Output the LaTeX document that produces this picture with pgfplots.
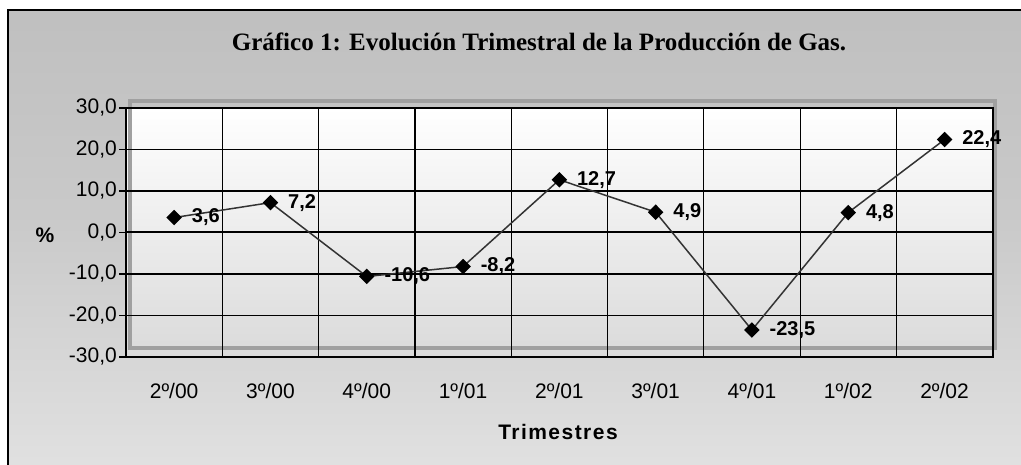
\documentclass[border=0pt]{standalone}
\usepackage{fontspec}
\setmainfont{Liberation Sans}
\newfontfamily\titlefont{Liberation Serif}
\newfontfamily\spacedfont[LetterSpace=7]{Liberation Sans}
\usepackage{pgfplots}
\pgfplotsset{compat=1.18}

\definecolor{bgtop}{RGB}{192,192,192}
\definecolor{pframe}{RGB}{160,160,160}
\definecolor{plotbot}{RGB}{218,218,218}
\definecolor{linegray}{RGB}{51,51,51}
\pgfdeclareverticalshading{chartbg}{100bp}{color(0bp)=(white); color(12bp)=(white!97!black); color(27bp)=(white!88!black); color(53bp)=(white!79!black); color(74bp)=(bgtop); color(100bp)=(bgtop)}

\begin{document}
\begin{tikzpicture}[x=1pt,y=1pt]
\useasboundingbox (0,0) rectangle (1021,465);
% chart area
\fill[shading=chartbg] (8,-20) rectangle (1040,455);
\draw[black,line width=2.5pt] (8,-20) rectangle (1040,455);
% plot area
\shade[top color=white,bottom color=plotbot] (126,108) rectangle (992.7,357);
\draw[pframe,line width=4pt] (129.7,117) rectangle (995,364);

\begin{axis}[at={(126pt,108pt)},anchor=south west,scale only axis,
  width=866.7pt,height=249pt,
  xmin=0,xmax=9,ymin=-30,ymax=30,
  xtick={0.5,1.5,...,8.5},
  xticklabels={2º/00,3º/00,4º/00,1º/01,2º/01,3º/01,4º/01,1º/02,2º/02},
  minor xtick={1,...,8},xminorgrids,
  ytick={-30,-20,...,30},ymajorgrids,
  major x tick style={draw=none},minor tick length=0pt,
  ytick pos=left,tick align=outside,major tick length=7pt,
  tick style={black,line width=1.2pt},
  grid style={black,line width=1.2pt},
  minor grid style={black,line width=1.2pt},
  axis line style={black,line width=1.6pt},
  ticklabel style={font=\fontsize{21}{24}\selectfont,inner sep=0pt},
  xticklabel style={yshift=-19pt},
  yticklabel style={xshift=-2pt},
  /pgf/number format/assume math mode=true,
  yticklabel={\pgfmathprintnumber[fixed,fixed zerofill,precision=1,use comma]{\tick}},
  nodes near coords={\pgfmathprintnumber[fixed,precision=1,use comma,assume math mode=true]{\pgfplotspointmeta}},
  nodes near coords style={font=\fontsize{20}{22}\selectfont\bfseries,anchor=west,xshift=17pt,inner sep=0pt,black},
  clip=false]
\draw[black,line width=2pt] (axis cs:0,0) -- (axis cs:9,0);
\pgfplotsinvokeforeach{1,...,8}{\draw[black,line width=1.2pt] (axis cs:#1,0) -- ++(0,-5pt);}
\addplot[linegray,line width=1.5pt,mark=diamond*,mark size=6.7pt,
  mark options={xscale=1.33,fill=black,draw=black,solid}] coordinates {
  (0.5,3.6) (1.5,7.2) (2.5,-10.6) (3.5,-8.2) (4.5,12.7) (5.5,4.9) (6.5,-23.5) (7.5,4.8) (8.5,22.4)};
\end{axis}

\node[font=\titlefont\bfseries\fontsize{25}{27}\selectfont] at (539,423) {Gráfico 1: Evolución Trimestral de la Producción de Gas.};
\node[font=\fontsize{21}{24}\selectfont\bfseries] at (45,230) {\%};
\node[font=\spacedfont\fontsize{21}{24}\selectfont\bfseries] at (558,33) {Trimestres};
\end{tikzpicture}
\end{document}
